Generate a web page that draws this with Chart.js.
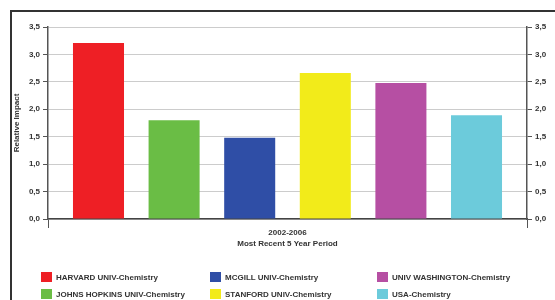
<!DOCTYPE html>
<html>
<head>
<meta charset="utf-8">
<script src="https://cdn.jsdelivr.net/npm/chart.js@4/dist/chart.umd.min.js"></script>
<style>
  html, body { margin: 0; padding: 0; background: #ffffff; }
  #wrap { position: relative; width: 555px; height: 300px; overflow: hidden; }
  #c { position: absolute; left: 0; top: 0; }
  #frame { position: absolute; left: 10px; top: 10px; width: 700px; height: 400px;
           border-left: 2px solid #333; border-top: 2px solid #333; pointer-events: none; }
  .leg { position: absolute; font: bold 8px "Liberation Sans", Arial, sans-serif; color: #333;
         white-space: nowrap; line-height: 11px; }
  .leg span.box { position: absolute; left: 0; top: 0; width: 11px; height: 10px; }
  .leg span.txt { position: absolute; left: 15px; top: 0; }
</style>
</head>
<body>
<div id="wrap">
  <canvas id="c" width="555" height="300"></canvas>
  <div id="frame"></div>
  <div id="legend"></div>
</div>
<script>
// ---- data ----
const categories = ['2002-2006'];
const institutions = [
  'HARVARD UNIV-Chemistry',
  'JOHNS HOPKINS UNIV-Chemistry',
  'MCGILL UNIV-Chemistry',
  'STANFORD UNIV-Chemistry',
  'UNIV WASHINGTON-Chemistry',
  'USA-Chemistry'
];
const relativeImpact = [3.21, 1.80, 1.48, 2.66, 2.48, 1.89];
const barColors = ['#ee1f25', '#6abd45', '#2f4ea6', '#f2eb1a', '#b64fa3', '#6ccbdb'];
const yTickLabels = ['0,0', '0,5', '1,0', '1,5', '2,0', '2,5', '3,0', '3,5'];
const xAxisTitle = 'Most Recent 5 Year Period';
const yAxisTitle = 'Relative Impact';

const tickFont = { family: '"Liberation Sans", Arial, sans-serif', size: 8, weight: 'bold' };
const titleFont = { family: '"Liberation Sans", Arial, sans-serif', size: 8, weight: 'bold' };

const datasets = institutions.map((name, i) => ({
  label: name,
  data: [relativeImpact[i]],
  backgroundColor: barColors[i],
  borderWidth: 0
}));

const tickCb = (v) => {
  const idx = Math.round(v / 0.5);
  return yTickLabels[idx] !== undefined ? yTickLabels[idx] : '';
};

new Chart(document.getElementById('c'), {
  type: 'bar',
  data: { labels: categories, datasets },
  options: {
    responsive: false,
    animation: false,
    layout: { padding: { left: 12, top: 27, right: 0, bottom: 51 } },
    plugins: { legend: { display: false }, tooltip: { enabled: false } },
    datasets: { bar: { categoryPercentage: 0.947, barPercentage: 0.675 } },
    scales: {
      x: {
        grid: { drawOnChartArea: false, tickLength: 9, color: '#555', tickColor: '#555' },
        border: { color: '#444', width: 1.5 },
        ticks: { font: tickFont, color: '#333', padding: 0 },
        title: { display: true, text: xAxisTitle, font: titleFont, color: '#333', padding: { top: 3, bottom: 0 } },
        afterFit(s) { s.height = 30; }
      },
      y: {
        min: 0, max: 3.5,
        ticks: { stepSize: 0.5, font: tickFont, color: '#333', padding: 3, callback: tickCb },
        grid: { color: '#cccccc', tickColor: '#555', tickLength: 5 },
        border: { color: '#555', width: 1.5 },
        title: { display: true, text: yAxisTitle, font: titleFont, color: '#333', padding: 0 },
        afterFit(s) { s.width = 36; }
      },
      y2: {
        position: 'right',
        min: 0, max: 3.5,
        ticks: { stepSize: 0.5, font: tickFont, color: '#333', padding: 3, callback: tickCb },
        grid: { drawOnChartArea: false, tickColor: '#555', tickLength: 5 },
        border: { color: '#555', width: 1.5 },
        afterFit(s) { s.width = 28; }
      }
    }
  }
});

// ---- legend (column-major, 3 columns x 2 rows) ----
const legCols = [41, 210, 377];
const legRows = [272, 289];
const legend = document.getElementById('legend');
institutions.forEach((name, i) => {
  const col = Math.floor(i / 2), row = i % 2;
  const d = document.createElement('div');
  d.className = 'leg';
  d.style.left = legCols[col] + 'px';
  d.style.top = legRows[row] + 'px';
  d.innerHTML = '<span class="box" style="background:' + barColors[i] + '"></span><span class="txt"></span>';
  d.querySelector('.txt').textContent = name;
  legend.appendChild(d);
});
</script>
</body>
</html>
